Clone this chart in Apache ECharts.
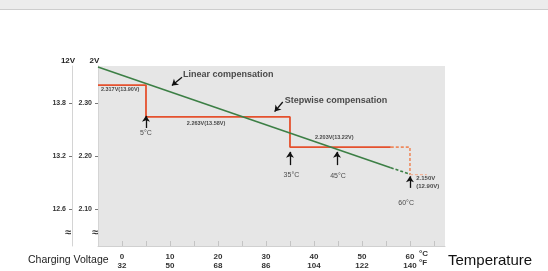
<!DOCTYPE html>
<html>
<head>
<meta charset="utf-8">
<script src="https://cdn.jsdelivr.net/npm/echarts@6/dist/echarts.min.js"></script>
<style>
  html, body { margin: 0; padding: 0; background: #fff; }
  #chart { width: 548px; height: 271px; }
</style>
</head>
<body>
<div id="chart"></div>
<script>
const FONT = "Liberation Sans, Arial, sans-serif";

// temperature axis
const tempC = [0, 10, 20, 30, 40, 50, 60];
const tempF = [32, 50, 68, 86, 104, 122, 140];
const tickC = [0, 5, 10, 15, 20, 25, 30, 35, 40, 45, 50, 55, 60, 65];

// voltage axes (per cell and per 12V battery)
const cellTicks = [2.1, 2.2, 2.3];
const batteryTicks = [12.6, 13.2, 13.8];

// curves [°C, V per cell]
const linearSolid = [[-5, 2.368], [56, 2.178]];
const linearDashed = [[56, 2.178], [60, 2.166]];
const stepSolid = [
  [-5, 2.334], [5, 2.334], [5, 2.274], [35, 2.274], [35, 2.217], [56, 2.217],
];
const stepDashed = [[56, 2.217], [60, 2.217], [60, 2.165]];
const stepTail = [[60, 2.165], [63.5, 2.165]];

// annotations [°C, V, text]
const captions = [
  [12.7, 2.353, "Linear compensation"],
  [33.9, 2.304, "Stepwise compensation"],
];
const valueNotes = [
  [-4.4, 2.325, "2.317V(13.90V)"],
  [13.5, 2.261, "2.263V(13.58V)"],
  [40.2, 2.236, "2.203V(13.22V)"],
  [61.3, 2.151, "2.150V\n(12.90V)"],
];
const tempNotes = [
  [5, 2.244, "5°C"],
  [35.3, 2.164, "35°C"],
  [45, 2.163, "45°C"],
  [59.2, 2.112, "60°C"],
];
// arrows [[from], [to]]
const arrows = [
  [[12.5, 2.349], [10.4, 2.333]],
  [[33.5, 2.302], [31.8, 2.284]],
  [[5, 2.253], [5, 2.276]],
  [[35, 2.183], [35, 2.208]],
  [[44.8, 2.183], [44.8, 2.208]],
  [[60, 2.140], [60, 2.162]],
];

const Y_MIN = 2.0304;
const Y_MAX = 2.37;

let myChart = echarts.init(document.getElementById("chart"));

function noteSeries(list, fontSize, fontWeight, position) {
  return {
    type: "scatter",
    symbolSize: 0,
    silent: true,
    z: 5,
    data: list.map(([t, v, text]) => ({ value: [t, v], name: text })),
    label: {
      show: true,
      position: position,
      distance: 0,
      formatter: (p) => p.name,
      fontFamily: FONT,
      fontSize: fontSize,
      fontWeight: fontWeight,
      lineHeight: fontSize + 2,
      color: "#222",
    },
  };
}

let option = {
  animation: false,
  backgroundColor: "#fff",
  textStyle: { fontFamily: FONT },
  grid: {
    left: 98,
    top: 66,
    width: 347,
    height: 180,
    show: true,
    backgroundColor: "#e6e6e6",
    borderWidth: 0,
  },
  graphic: [
    { type: "rect", shape: { x: 0, y: 0, width: 548, height: 9 }, style: { fill: "#ececec" } },
    { type: "line", shape: { x1: 0, y1: 9.5, x2: 548, y2: 9.5 }, style: { stroke: "#cdcdcd", lineWidth: 1 } },
    { type: "text", left: 28, top: 255, style: { text: "Charging Voltage", font: "10.5px " + FONT, fill: "#222" } },
    { type: "text", left: 419, top: 249, style: { text: "°C\n°F", font: "bold 8px " + FONT, lineHeight: 9, fill: "#333" } },
    { type: "text", left: 65, top: 227, style: { text: "≈", font: "bold 11px " + FONT, fill: "#333" } },
    { type: "text", left: 92, top: 227, style: { text: "≈", font: "bold 11px " + FONT, fill: "#333" } },
  ],
  xAxis: {
    type: "value",
    min: -5,
    max: 67.3,
    name: "Temperature",
    nameLocation: "end",
    nameGap: 3,
    nameTextStyle: {
      fontFamily: FONT,
      fontSize: 15,
      color: "#111",
      verticalAlign: "top",
      padding: [7, 0, 0, 0],
    },
    axisLine: { show: true, onZero: false, lineStyle: { color: "#d0d0d0" } },
    axisTick: {
      show: true,
      inside: true,
      length: 5,
      customValues: tickC,
      lineStyle: { color: "#c4c4c4" },
    },
    axisLabel: {
      customValues: tempC,
      margin: 6,
      fontSize: 8,
      fontWeight: "bold",
      lineHeight: 9,
      color: "#333",
      formatter: function (value) {
        let i = tempC.indexOf(value);
        return i < 0 ? "" : value + "\n" + tempF[i];
      },
    },
    splitLine: { show: false },
  },
  yAxis: [
    {
      type: "value",
      min: Y_MIN,
      max: Y_MAX,
      position: "left",
      name: "2V",
      nameLocation: "end",
      nameGap: 1,
      nameTextStyle: { fontSize: 8, fontWeight: "bold", color: "#222", padding: [0, 7, 0, 0] },
      axisLine: { show: true, onZero: false, lineStyle: { color: "#d4d4d4" } },
      axisTick: { show: true, length: 3, customValues: cellTicks, lineStyle: { color: "#777" } },
      axisLabel: {
        customValues: cellTicks,
        margin: 6,
        fontSize: 7,
        fontWeight: "bold",
        color: "#333",
        formatter: (v) => v.toFixed(2),
      },
      splitLine: { show: false },
    },
    {
      type: "value",
      min: Y_MIN * 6,
      max: Y_MAX * 6,
      position: "left",
      offset: 26,
      name: "12V",
      nameLocation: "end",
      nameGap: 1,
      nameTextStyle: { fontSize: 8, fontWeight: "bold", color: "#222", padding: [0, 8, 0, 0] },
      axisLine: { show: true, onZero: false, lineStyle: { color: "#d4d4d4" } },
      axisTick: { show: true, length: 3, customValues: batteryTicks, lineStyle: { color: "#777" } },
      axisLabel: {
        customValues: batteryTicks,
        margin: 6,
        fontSize: 7,
        fontWeight: "bold",
        color: "#333",
        formatter: (v) => v.toFixed(1),
      },
      splitLine: { show: false },
    },
  ],
  series: [
    {
      name: "linear",
      type: "line",
      symbol: "none",
      data: linearSolid,
      lineStyle: { color: "#3c7f45", width: 1.6 },
      z: 3,
    },
    {
      name: "linear dashed",
      type: "line",
      symbol: "none",
      data: linearDashed,
      lineStyle: { color: "#3c7f45", width: 1.6, type: [3, 2] },
      z: 3,
    },
    {
      name: "stepwise",
      type: "line",
      symbol: "none",
      data: stepSolid,
      lineStyle: { color: "#e5512e", width: 1.8 },
      z: 2,
    },
    {
      name: "stepwise dashed",
      type: "line",
      symbol: "none",
      data: stepDashed,
      lineStyle: { color: "#ee8a5e", width: 1.6, type: [3, 2] },
      z: 2,
    },
    {
      name: "stepwise tail",
      type: "line",
      symbol: "none",
      data: stepTail,
      lineStyle: { color: "#f2b49a", width: 1.2, type: [3, 2] },
      z: 2,
    },
    Object.assign(noteSeries(captions, 9, "bold", "right"), {
      markLine: {
        silent: true,
        symbol: ["none", "arrow"],
        symbolSize: 6,
        animation: false,
        label: { show: false },
        lineStyle: { color: "#111", width: 1.3, type: "solid" },
        data: arrows.map(([a, b]) => [{ coord: a }, { coord: b }]),
      },
    }),
    noteSeries(valueNotes.slice(0, 3), 5.5, "bold", "right"),
    noteSeries(valueNotes.slice(3), 6, "bold", "right"),
    noteSeries(tempNotes, 7, "normal", "inside"),
  ],
};

option && myChart.setOption(option);
</script>
</body>
</html>
